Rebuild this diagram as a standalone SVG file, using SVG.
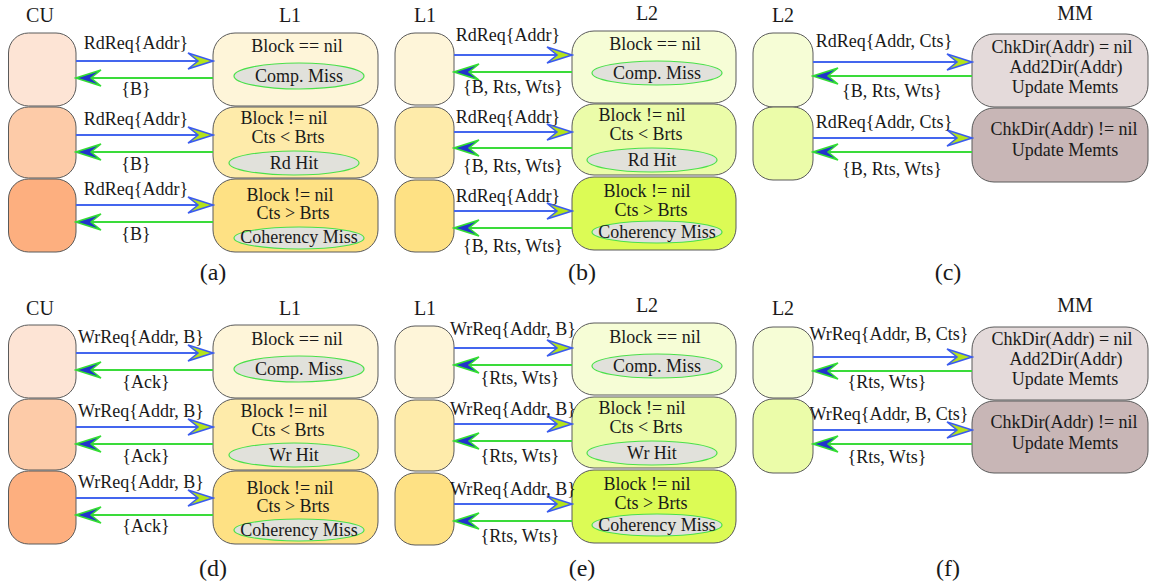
<svg xmlns="http://www.w3.org/2000/svg" width="1150" height="588" viewBox="0 0 1150 588">
<style>
rect{stroke:#5a5a5a;stroke-width:1}
.cu1{fill:#FDE4D5}.cu2{fill:#FDCBA8}.cu3{fill:#FDAF7F}
.l1a{fill:#FEF5D9}.l1b{fill:#FEEBAA}.l1c{fill:#FEE184}
.l2a{fill:#F6FDD6}.l2b{fill:#EBFCA9}.l2c{fill:#DCFB55}
.mm1{fill:#E4DADA}.mm2{fill:#C8B6B6}
ellipse{fill:#E1E1DB;stroke:#4BE04B;stroke-width:1.2}
text{font-family:"Liberation Serif","Times New Roman",serif;font-size:18px;text-anchor:middle;fill:#1a1a1a}
.h{font-size:20px}
.cap{font-size:24px}
.req{stroke:#4466EE;stroke-width:2;fill:none;marker-end:url(#hReq)}
.rsp{stroke:#3ADB3A;stroke-width:2;fill:none;marker-end:url(#hRsp)}
</style>
<defs>
<marker id="hReq" viewBox="-27 -10 29 20" refX="0" refY="0" markerWidth="29" markerHeight="20" orient="auto" markerUnits="userSpaceOnUse">
<path d="M0,0 L-25,-8 L-15,0 L-25,8 Z" fill="#B4E31B" stroke="#3A5BEF" stroke-width="1.5" stroke-linejoin="miter"/>
</marker>
<marker id="hRsp" viewBox="-27 -10 29 20" refX="0" refY="0" markerWidth="29" markerHeight="20" orient="auto" markerUnits="userSpaceOnUse">
<path d="M0,0 L-25,-8 L-15,0 L-25,8 Z" fill="#2233CC" stroke="#33DD33" stroke-width="1.5" stroke-linejoin="miter"/>
</marker>
</defs>

<!-- headers and captions -->
<g id="headers">
<text class="h" x="40" y="22">CU</text>
<text class="h" x="290" y="22">L1</text>
<text class="h" x="425" y="22">L1</text>
<text class="h" x="647" y="20">L2</text>
<text class="h" x="783" y="22">L2</text>
<text class="h" x="1075" y="20">MM</text>
<text class="h" x="40" y="315">CU</text>
<text class="h" x="290" y="315">L1</text>
<text class="h" x="425" y="315">L1</text>
<text class="h" x="647" y="312">L2</text>
<text class="h" x="783" y="315">L2</text>
<text class="h" x="1075" y="312">MM</text>
<text class="cap" x="213" y="280">(a)</text>
<text class="cap" x="582" y="280">(b)</text>
<text class="cap" x="948" y="280">(c)</text>
<text class="cap" x="213" y="576">(d)</text>
<text class="cap" x="582" y="576">(e)</text>
<text class="cap" x="948" y="576">(f)</text>
</g>

<!-- Panel (a) -->
<g id="a-cu1"><rect class="cu1" x="8.5" y="33" width="67.5" height="73" rx="20"/></g>
<g id="a-cu2"><rect class="cu2" x="8.5" y="107" width="67.5" height="71" rx="20"/></g>
<g id="a-cu3"><rect class="cu3" x="8.5" y="179" width="67.5" height="73" rx="20"/></g>
<g id="a-l1-1"><rect class="l1a" x="213" y="33" width="165" height="73" rx="22"/>
<text x="297" y="52">Block == nil</text>
<ellipse cx="299" cy="76" rx="65" ry="13"/><text x="299" y="82">Comp. Miss</text></g>
<g id="a-l1-2"><rect class="l1b" x="213" y="107" width="165" height="71" rx="22"/>
<text x="284" y="124">Block != nil</text><text x="288" y="143">Cts &lt; Brts</text>
<ellipse cx="294" cy="163" rx="65" ry="12"/><text x="294" y="169">Rd Hit</text></g>
<g id="a-l1-3"><rect class="l1c" x="213" y="179" width="165" height="73" rx="22"/>
<text x="290" y="201">Block != nil</text><text x="293" y="219">Cts &gt; Brts</text>
<ellipse cx="299" cy="238" rx="65" ry="11"/><text x="299" y="243">Coherency Miss</text></g>

<!-- Panel (b) -->
<g id="b-l1-1"><rect class="l1a" x="395" y="33" width="59" height="72" rx="20"/></g>
<g id="b-l1-2"><rect class="l1b" x="395" y="107" width="59" height="71" rx="20"/></g>
<g id="b-l1-3"><rect class="l1c" x="395" y="180" width="59" height="72" rx="20"/></g>
<g id="b-l2-1"><rect class="l2a" x="572" y="31" width="164" height="72" rx="22"/>
<text x="655" y="50">Block == nil</text>
<ellipse cx="657" cy="73" rx="65" ry="12"/><text x="657" y="79">Comp. Miss</text></g>
<g id="b-l2-2"><rect class="l2b" x="572" y="104" width="164" height="71" rx="22"/>
<text x="642" y="121">Block != nil</text><text x="646" y="140">Cts &lt; Brts</text>
<ellipse cx="652" cy="160" rx="65" ry="12"/><text x="652" y="166">Rd Hit</text></g>
<g id="b-l2-3"><rect class="l2c" x="572" y="177" width="164" height="73" rx="22"/>
<text x="647" y="197">Block != nil</text><text x="651" y="216">Cts &gt; Brts</text>
<ellipse cx="657" cy="232" rx="65" ry="11"/><text x="657" y="238">Coherency Miss</text></g>

<!-- Panel (c) -->
<g id="c-l2-1"><rect class="l2a" x="753" y="33" width="60" height="74" rx="20"/></g>
<g id="c-l2-2"><rect class="l2b" x="753" y="107" width="60" height="73" rx="20"/></g>
<g id="c-mm-1"><rect class="mm1" x="972" y="34" width="176" height="73" rx="22"/>
<text x="1062" y="53">ChkDir(Addr) = nil</text><text x="1066" y="73">Add2Dir(Addr)</text><text x="1065" y="93">Update Memts</text></g>
<g id="c-mm-2"><rect class="mm2" x="972" y="108" width="176" height="74" rx="22"/>
<text x="1064" y="135">ChkDir(Addr) != nil</text><text x="1065" y="156">Update Memts</text></g>

<!-- Panel (d) -->
<g id="d-cu1"><rect class="cu1" x="8.5" y="325" width="67.5" height="73" rx="20"/></g>
<g id="d-cu2"><rect class="cu2" x="8.5" y="399" width="67.5" height="71" rx="20"/></g>
<g id="d-cu3"><rect class="cu3" x="8.5" y="471" width="67.5" height="73" rx="20"/></g>
<g id="d-l1-1"><rect class="l1a" x="213" y="325" width="165" height="73" rx="22"/>
<text x="297" y="345">Block == nil</text>
<ellipse cx="299" cy="369" rx="65" ry="13"/><text x="299" y="375">Comp. Miss</text></g>
<g id="d-l1-2"><rect class="l1b" x="213" y="399" width="165" height="71" rx="22"/>
<text x="284" y="417">Block != nil</text><text x="288" y="436">Cts &lt; Brts</text>
<ellipse cx="294" cy="455" rx="65" ry="12"/><text x="294" y="461">Wr Hit</text></g>
<g id="d-l1-3"><rect class="l1c" x="213" y="471" width="165" height="73" rx="22"/>
<text x="290" y="494">Block != nil</text><text x="293" y="512">Cts &gt; Brts</text>
<ellipse cx="299" cy="530" rx="65" ry="11"/><text x="299" y="536">Coherency Miss</text></g>

<!-- Panel (e) -->
<g id="e-l1-1"><rect class="l1a" x="395" y="326" width="59" height="72" rx="20"/></g>
<g id="e-l1-2"><rect class="l1b" x="395" y="400" width="59" height="71" rx="20"/></g>
<g id="e-l1-3"><rect class="l1c" x="395" y="473" width="59" height="72" rx="20"/></g>
<g id="e-l2-1"><rect class="l2a" x="572" y="323" width="164" height="72" rx="22"/>
<text x="655" y="343">Block == nil</text>
<ellipse cx="657" cy="366" rx="65" ry="12"/><text x="657" y="372">Comp. Miss</text></g>
<g id="e-l2-2"><rect class="l2b" x="572" y="397" width="164" height="71" rx="22"/>
<text x="642" y="414">Block != nil</text><text x="646" y="433">Cts &lt; Brts</text>
<ellipse cx="652" cy="453" rx="65" ry="12"/><text x="652" y="459">Wr Hit</text></g>
<g id="e-l2-3"><rect class="l2c" x="572" y="470" width="164" height="73" rx="22"/>
<text x="647" y="490">Block != nil</text><text x="651" y="509">Cts &gt; Brts</text>
<ellipse cx="657" cy="525" rx="65" ry="11"/><text x="657" y="531">Coherency Miss</text></g>

<!-- Panel (f) -->
<g id="f-l2-1"><rect class="l2a" x="753" y="327" width="60" height="71" rx="20"/></g>
<g id="f-l2-2"><rect class="l2b" x="753" y="399" width="60" height="74" rx="20"/></g>
<g id="f-mm-1"><rect class="mm1" x="972" y="327" width="176" height="73" rx="22"/>
<text x="1062" y="345">ChkDir(Addr) = nil</text><text x="1066" y="365">Add2Dir(Addr)</text><text x="1065" y="385">Update Memts</text></g>
<g id="f-mm-2"><rect class="mm2" x="972" y="401" width="176" height="72" rx="22"/>
<text x="1064" y="428">ChkDir(Addr) != nil</text><text x="1065" y="449">Update Memts</text></g>

<!-- Connectors -->
<g id="connectors">
<!-- (a) -->
<line class="req" x1="76" y1="61" x2="213" y2="61"/>
<line class="rsp" x1="213" y1="78" x2="76" y2="78"/>
<text x="136" y="49">RdReq{Addr}</text><text x="136" y="95">{B}</text>
<line class="req" x1="76" y1="135" x2="213" y2="135"/>
<line class="rsp" x1="213" y1="152" x2="76" y2="152"/>
<text x="136" y="125">RdReq{Addr}</text><text x="136" y="170">{B}</text>
<line class="req" x1="76" y1="205" x2="213" y2="205"/>
<line class="rsp" x1="213" y1="222" x2="76" y2="222"/>
<text x="136" y="195">RdReq{Addr}</text><text x="136" y="240">{B}</text>
<!-- (b) -->
<line class="req" x1="454" y1="55" x2="572" y2="55"/>
<line class="rsp" x1="572" y1="72" x2="454" y2="72"/>
<text x="508" y="41">RdReq{Addr}</text><text x="513" y="93">{B, Rts, Wts}</text>
<line class="req" x1="454" y1="132" x2="572" y2="132"/>
<line class="rsp" x1="572" y1="148" x2="454" y2="148"/>
<text x="508" y="123">RdReq{Addr}</text><text x="513" y="172">{B, Rts, Wts}</text>
<line class="req" x1="454" y1="211" x2="572" y2="211"/>
<line class="rsp" x1="572" y1="228" x2="454" y2="228"/>
<text x="508" y="202">RdReq{Addr}</text><text x="513" y="252">{B, Rts, Wts}</text>
<!-- (c) -->
<line class="req" x1="813" y1="62" x2="972" y2="62"/>
<line class="rsp" x1="972" y1="76" x2="813" y2="76"/>
<text x="884" y="47">RdReq{Addr, Cts}</text><text x="892" y="97">{B, Rts, Wts}</text>
<line class="req" x1="813" y1="138" x2="972" y2="138"/>
<line class="rsp" x1="972" y1="152" x2="813" y2="152"/>
<text x="884" y="128">RdReq{Addr, Cts}</text><text x="892" y="175">{B, Rts, Wts}</text>
<!-- (d) -->
<line class="req" x1="76" y1="353" x2="213" y2="353"/>
<line class="rsp" x1="213" y1="370" x2="76" y2="370"/>
<text x="141" y="343">WrReq{Addr, B}</text><text x="146" y="388">{Ack}</text>
<line class="req" x1="76" y1="427" x2="213" y2="427"/>
<line class="rsp" x1="213" y1="444" x2="76" y2="444"/>
<text x="141" y="417">WrReq{Addr, B}</text><text x="146" y="462">{Ack}</text>
<line class="req" x1="76" y1="498" x2="213" y2="498"/>
<line class="rsp" x1="213" y1="515" x2="76" y2="515"/>
<text x="141" y="488">WrReq{Addr, B}</text><text x="146" y="532">{Ack}</text>
<!-- (e) -->
<line class="req" x1="454" y1="348" x2="572" y2="348"/>
<line class="rsp" x1="572" y1="365" x2="454" y2="365"/>
<text x="513" y="335">WrReq{Addr, B}</text><text x="520" y="384">{Rts, Wts}</text>
<line class="req" x1="454" y1="424" x2="572" y2="424"/>
<line class="rsp" x1="572" y1="441" x2="454" y2="441"/>
<text x="513" y="415">WrReq{Addr, B}</text><text x="520" y="462">{Rts, Wts}</text>
<line class="req" x1="454" y1="504" x2="572" y2="504"/>
<line class="rsp" x1="572" y1="521" x2="454" y2="521"/>
<text x="513" y="495">WrReq{Addr, B}</text><text x="520" y="542">{Rts, Wts}</text>
<!-- (f) -->
<line class="req" x1="813" y1="357" x2="972" y2="357"/>
<line class="rsp" x1="972" y1="371" x2="813" y2="371"/>
<text x="889" y="340">WrReq{Addr, B, Cts}</text><text x="887" y="388">{Rts, Wts}</text>
<line class="req" x1="813" y1="430" x2="972" y2="430"/>
<line class="rsp" x1="972" y1="444" x2="813" y2="444"/>
<text x="889" y="420">WrReq{Addr, B, Cts}</text><text x="887" y="463">{Rts, Wts}</text>
</g>
</svg>
